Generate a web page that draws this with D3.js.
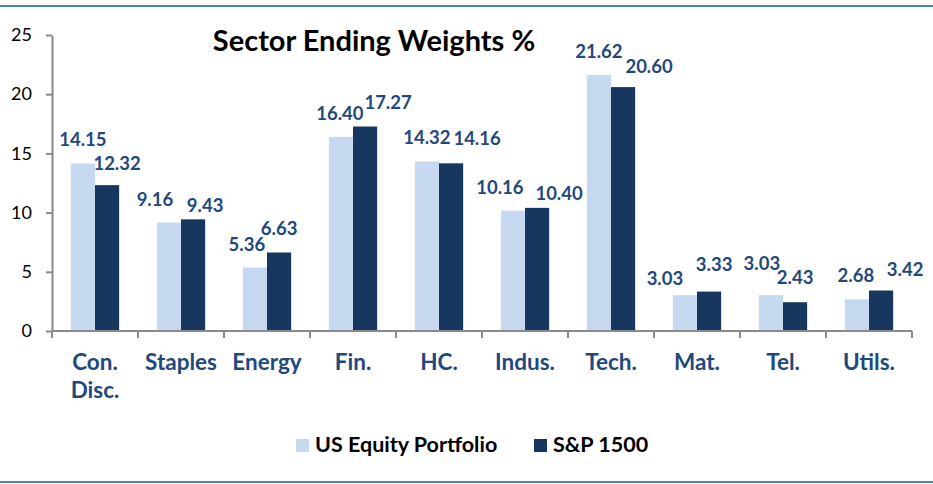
<!DOCTYPE html>
<html>
<head>
<meta charset="utf-8">
<script src="https://cdn.jsdelivr.net/npm/d3@7"></script>
<style>
  body { margin: 0; background: #fff; }
  svg { display: block; font-family: Lato, "Open Sans", sans-serif; }
</style>
</head>
<body>
<svg class="chart"></svg>
<script>
// data
const categories = ['Con. Disc.', 'Staples', 'Energy', 'Fin.', 'HC.', 'Indus.', 'Tech.', 'Mat.', 'Tel.', 'Utils.'];
const seriesNames = ['US Equity Portfolio', 'S&P 1500'];
const portfolioWeights = [14.15, 9.16, 5.36, 16.40, 14.32, 10.16, 21.62, 3.03, 3.03, 2.68];
const sp1500Weights = [12.32, 9.43, 6.63, 17.27, 14.16, 10.40, 20.60, 3.33, 2.43, 3.42];
const yTicks = [0, 5, 10, 15, 20, 25];

// data label nudges (excel moved some labels so they don't collide)
const labelNudgeX = [
  [0, -14, -8, -1, 0, -13, 0, -20, -9, -1],
  [10, 12, 0, 23, 26, 22, 26, 5, 0, 24]
];
const labelNudgeY = [
  [0, 0, 0, 0, 0, 0, 0, 7, -8, 0],
  [2, 10, -1, -1, -1, 9, 3, -4, -1, 2]
];

const colors = ['#C6D9F1', '#17375E'];
const labelColor = '#1F497D';
const axisColor = '#8A8A8A';

const svgWidth = 933;
const svgHeight = 484;
const margin = { top: 35, right: 21, bottom: 153, left: 52 };
const chartWidth = svgWidth - margin.left - margin.right;
const chartHeight = svgHeight - margin.top - margin.bottom;

const svg = d3.select('.chart')
  .attr('width', svgWidth)
  .attr('height', svgHeight);

// frame lines top and bottom
svg.append('line')
  .attr('x1', 0).attr('x2', svgWidth).attr('y1', 6).attr('y2', 6)
  .attr('stroke', '#4F81BD').attr('stroke-width', 2);
svg.append('line')
  .attr('x1', 0).attr('x2', svgWidth).attr('y1', 482).attr('y2', 482)
  .attr('stroke', '#4F81BD').attr('stroke-width', 2);

const chart = svg.append('g')
  .attr('transform', 'translate(' + margin.left + ',' + margin.top + ')');

const x0 = d3.scaleBand()
  .domain(categories)
  .range([0, chartWidth])
  .padding(0);

const x1 = d3.scaleBand()
  .domain(d3.range(seriesNames.length))
  .range([0, x0.bandwidth()])
  .paddingInner(0)
  .paddingOuter(0.78);

const yScale = d3.scaleLinear()
  .domain([0, 25])
  .range([chartHeight, 0]);

const seriesValues = [portfolioWeights, sp1500Weights];

// y axis
const yAxisGroup = chart.append('g')
  .call(d3.axisLeft(yScale).tickValues(yTicks).tickSize(6).tickSizeOuter(0).tickPadding(14));
yAxisGroup.selectAll('path').attr('stroke', axisColor).attr('stroke-width', 2);
yAxisGroup.selectAll('line').attr('stroke', axisColor).attr('stroke-width', 2);
yAxisGroup.selectAll('text')
  .attr('fill', '#000')
  .attr('font-size', '18px')
  .attr('font-family', 'Lato, sans-serif');

// bars
const groups = chart.selectAll('.group')
  .data(categories)
  .enter()
  .append('g')
  .attr('class', 'group')
  .attr('transform', d => 'translate(' + x0(d) + ',0)');

seriesValues.forEach((vals, s) => {
  groups.append('rect')
    .attr('x', x1(s))
    .attr('width', x1.bandwidth())
    .attr('y', (d, i) => yScale(vals[i]))
    .attr('height', (d, i) => chartHeight - yScale(vals[i]))
    .attr('fill', colors[s]);
});

// x axis
const xAxisGroup = chart.append('g')
  .attr('transform', 'translate(0,' + chartHeight + ')');
xAxisGroup.append('line')
  .attr('x1', 0).attr('x2', chartWidth)
  .attr('stroke', axisColor).attr('stroke-width', 2);
const boundaries = categories.map(c => x0(c)).concat([chartWidth]);
xAxisGroup.selectAll('.xtick')
  .data(boundaries)
  .enter()
  .append('line')
  .attr('class', 'xtick')
  .attr('x1', d => d).attr('x2', d => d)
  .attr('y1', 0).attr('y2', 7)
  .attr('stroke', axisColor).attr('stroke-width', 2);

const catLabels = xAxisGroup.selectAll('.xlabel')
  .data(categories)
  .enter()
  .append('text')
  .attr('class', 'xlabel')
  .attr('text-anchor', 'middle')
  .attr('fill', labelColor)
  .attr('font-size', '22.5px')
  .attr('font-weight', 'bold');
catLabels.each(function (d) {
  const words = d.split(' ');
  const t = d3.select(this);
  words.forEach((w, k) => {
    t.append('tspan')
      .attr('x', x0(d) + x0.bandwidth() / 2)
      .attr('y', 39 + k * 28)
      .text(w);
  });
});

// data labels
seriesValues.forEach((vals, s) => {
  groups.append('text')
    .attr('x', (d, i) => x1(s) + x1.bandwidth() / 2 + labelNudgeX[s][i])
    .attr('y', (d, i) => yScale(vals[i]) - 17 + labelNudgeY[s][i])
    .attr('text-anchor', 'middle')
    .attr('fill', labelColor)
    .attr('font-size', '18.5px')
    .attr('font-weight', 'bold')
    .text((d, i) => vals[i].toFixed(2));
});

// title
svg.append('text')
  .attr('x', 374)
  .attr('y', 51)
  .attr('text-anchor', 'middle')
  .attr('font-size', '29px')
  .attr('font-weight', 'bold')
  .attr('fill', '#000')
  .text('Sector Ending Weights %');

// legend
const legendX = [296, 534];
const legend = svg.selectAll('.legend')
  .data(seriesNames)
  .enter()
  .append('g')
  .attr('class', 'legend')
  .attr('transform', (d, i) => 'translate(' + legendX[i] + ',439)');
legend.append('rect')
  .attr('width', 13).attr('height', 13)
  .attr('fill', (d, i) => colors[i]);
legend.append('text')
  .attr('x', 19)
  .attr('y', 13)
  .attr('font-size', '21.5px')
  .attr('font-weight', 'bold')
  .attr('fill', '#000')
  .text(d => d);
</script>
</body>
</html>
